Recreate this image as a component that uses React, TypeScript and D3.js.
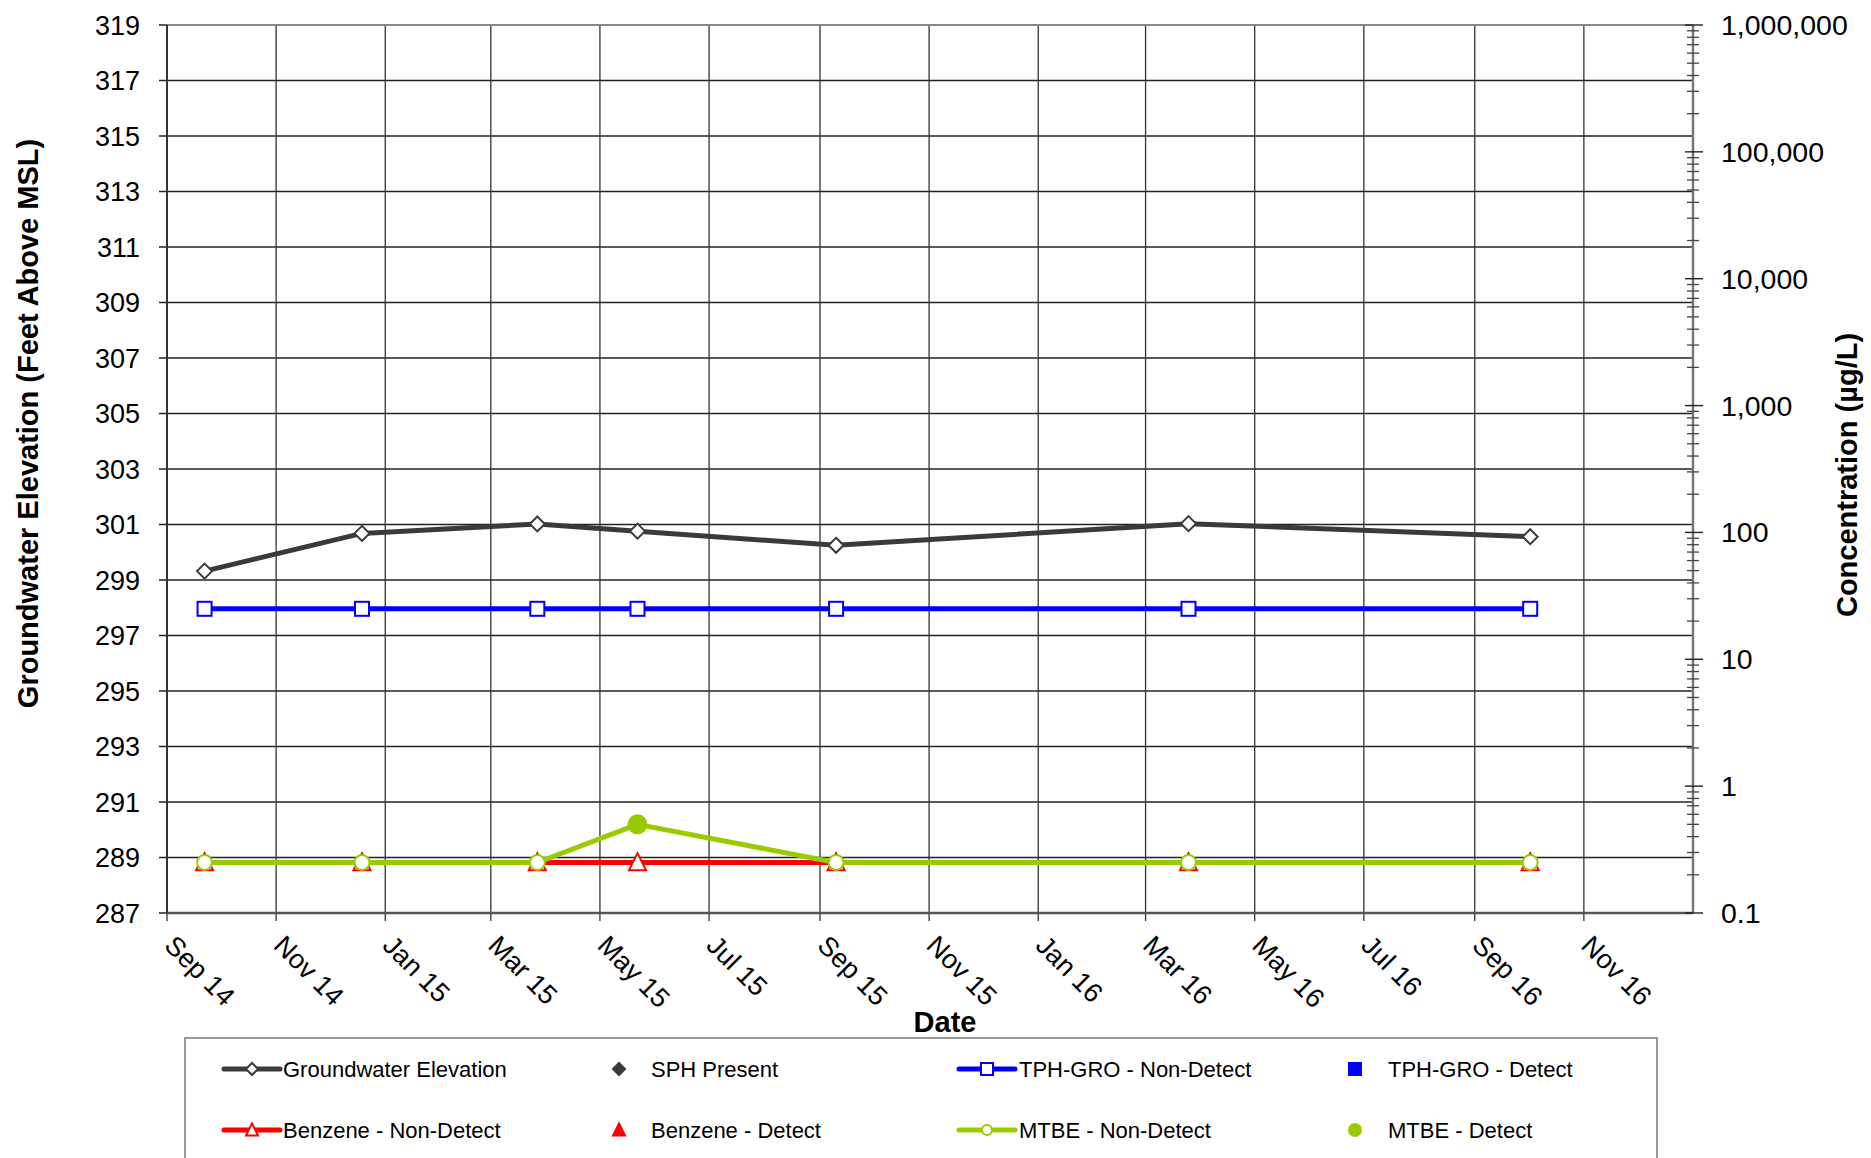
import React from 'react';
import * as d3 from 'd3';

// sampling events
const sampleDates = ['2014-09-22', '2014-12-19', '2015-03-27', '2015-05-22', '2015-09-10', '2016-03-25', '2016-10-02'];
const groundwater = [299.32, 300.68, 301.02, 300.76, 300.25, 301.03, 300.56];
const tphGro = [25, 25, 25, 25, 25, 25, 25];
const tphGroDetect = [false, false, false, false, false, false, false];
const benzene = [0.25, 0.25, 0.25, 0.25, 0.25, 0.25, 0.25];
const benzeneDetect = [false, false, false, false, false, false, false];
const mtbe = [0.25, 0.25, 0.25, 0.5, 0.25, 0.25, 0.25];
const mtbeDetect = [false, false, false, true, false, false, false];

const elevTicks = d3.range(287, 320, 2);
const concTicks = [0.1, 1, 10, 100, 1000, 10000, 100000, 1000000];

const W = 1871;
const H = 1158;
const M = { left: 167, right: 1693, top: 25, bottom: 913 };
const FONT = '"Liberation Sans", Arial, sans-serif';

const GW_COLOR = '#3a3a3a';
const TPH_COLOR = '#0000ff';
const BENZ_COLOR = '#ff0000';
const MTBE_COLOR = '#99cc00';

const parse = d3.timeParse('%Y-%m-%d');
const dates = sampleDates.map((d) => parse(d) as Date);

const xStart = new Date(2014, 8, 1);
const xEnd = new Date(2017, 0, 1);
const x = d3.scaleTime().domain([xStart, xEnd]).range([M.left, M.right]);
const yL = d3.scaleLinear().domain([287, 319]).range([M.bottom, M.top]);
const yR = d3.scaleLog().domain([0.1, 1000000]).range([M.bottom, M.top]);

const xTicks = d3.timeMonth.every(2)!.range(xStart, xEnd);
const fmtX = d3.timeFormat('%b %y');
const fmtR = d3.format(',');

const minorR: number[] = [];
for (let e = -1; e < 6; e++) {
  for (let k = 2; k <= 9; k++) minorR.push(k * Math.pow(10, e));
}

const diamond = (cx: number, cy: number, r: number) =>
  `M${cx},${cy - r}L${cx + r},${cy}L${cx},${cy + r}L${cx - r},${cy}Z`;
const triangle = (cx: number, cy: number, s: number) =>
  `M${cx},${cy - s * 0.55}L${cx + s / 2},${cy + s * 0.45}L${cx - s / 2},${cy + s * 0.45}Z`;

const Marker: React.FC<{ kind: string; cx: number; cy: number; color: string; filled: boolean; big?: boolean }> = ({
  kind, cx, cy, color, filled, big,
}) => {
  const fill = filled ? color : '#fff';
  if (kind === 'diamond') return <path d={diamond(cx, cy, big ? 7.5 : 6)} fill={fill} stroke={color} strokeWidth={2} />;
  if (kind === 'square') {
    const s = big ? 14 : 12;
    return <rect x={cx - s / 2} y={cy - s / 2} width={s} height={s} fill={fill} stroke={color} strokeWidth={2} />;
  }
  if (kind === 'triangle') return <path d={triangle(cx, cy, big ? 17 : 12)} fill={fill} stroke={color} strokeWidth={2} />;
  return <circle cx={cx} cy={cy} r={filled ? (big ? 9 : 6) : big ? 7.5 : 5} fill={fill} stroke={color} strokeWidth={2} />;
};

export default function App() {
  const gwLine = d3.line<number>().x((_, i) => x(dates[i])).y((v) => yL(v));
  const cLine = d3.line<number>().x((_, i) => x(dates[i])).y((v) => yR(v));

  const concSeries = [
    { vals: tphGro, det: tphGroDetect, color: TPH_COLOR, kind: 'square' },
    { vals: benzene, det: benzeneDetect, color: BENZ_COLOR, kind: 'triangle' },
    { vals: mtbe, det: mtbeDetect, color: MTBE_COLOR, kind: 'circle' },
  ];

  const legendRows = [
    [
      { label: 'Groundwater Elevation', color: GW_COLOR, kind: 'diamond', line: true },
      { label: 'SPH Present', color: GW_COLOR, kind: 'diamond', line: false },
      { label: 'TPH-GRO - Non-Detect', color: TPH_COLOR, kind: 'square', line: true },
      { label: 'TPH-GRO - Detect', color: TPH_COLOR, kind: 'square', line: false },
    ],
    [
      { label: 'Benzene - Non-Detect', color: BENZ_COLOR, kind: 'triangle', line: true },
      { label: 'Benzene - Detect', color: BENZ_COLOR, kind: 'triangle', line: false },
      { label: 'MTBE - Non-Detect', color: MTBE_COLOR, kind: 'circle', line: true },
      { label: 'MTBE - Detect', color: MTBE_COLOR, kind: 'circle', line: false },
    ],
  ];
  const legendCols = [252, 619, 987, 1355];
  const legendText = [283, 651, 1019, 1388];
  const legendY = [1069, 1130];

  return (
    <div style={{ position: 'absolute', left: 0, top: 0 }}>
      <svg width={W} height={H} style={{ display: 'block', background: '#fff', fontFamily: FONT }}>
        {/* grid */}
        {elevTicks.map((t) => (
          <line key={'h' + t} x1={M.left - 8} x2={M.right} y1={yL(t)} y2={yL(t)} stroke="#222" strokeWidth={1.4} />
        ))}
        {xTicks.map((t) => (
          <line key={'v' + t.getTime()} x1={x(t)} x2={x(t)} y1={M.top} y2={M.bottom + 8} stroke="#333" strokeWidth={1.3} />
        ))}
        {/* frame */}
        <line x1={M.left} x2={M.right} y1={M.top} y2={M.top} stroke="#888" strokeWidth={2} />
        <line x1={M.left} x2={M.right} y1={M.bottom} y2={M.bottom} stroke="#555" strokeWidth={2.5} />
        <line x1={M.left} x2={M.left} y1={M.top} y2={M.bottom} stroke="#333" strokeWidth={2} />
        <line x1={M.right} x2={M.right} y1={M.top} y2={M.bottom} stroke="#777" strokeWidth={2.5} />

        {/* left axis labels */}
        {elevTicks.map((t) => (
          <text key={'l' + t} x={140} y={yL(t) + 9.5} textAnchor="end" fontSize={27} fill="#000">
            {t}
          </text>
        ))}

        {/* right axis ticks */}
        {minorR.map((v) => (
          <line key={'m' + v} x1={M.right - 6} x2={M.right + 6} y1={yR(v)} y2={yR(v)} stroke="#444" strokeWidth={1.3} />
        ))}
        {concTicks.map((v) => (
          <g key={'r' + v}>
            <line x1={M.right - 8} x2={M.right + 10} y1={yR(v)} y2={yR(v)} stroke="#222" strokeWidth={1.4} />
            <text x={1721} y={yR(v) + 10} fontSize={28.5} fill="#000">
              {fmtR(v)}
            </text>
          </g>
        ))}

        {/* x axis labels */}
        {xTicks.map((t) => (
          <text key={'x' + t.getTime()} transform={`translate(${x(t) - 4},${M.bottom + 34}) rotate(45)`} fontSize={27} fill="#000">
            {fmtX(t)}
          </text>
        ))}

        {/* axis titles */}
        <text transform={`translate(38,${(137 + 710) / 2}) rotate(-90)`} textAnchor="middle" fontSize={29} fontWeight="bold">
          Groundwater Elevation (Feet Above MSL)
        </text>
        <text transform={`translate(1857,475) rotate(-90)`} textAnchor="middle" fontSize={29} fontWeight="bold">
          Concentration (µg/L)
        </text>
        <text x={945} y={1032} textAnchor="middle" fontSize={29} fontWeight="bold">
          Date
        </text>

        {/* concentration series */}
        {concSeries.map((s, si) => (
          <g key={'c' + si}>
            <path d={cLine(s.vals) || ''} fill="none" stroke={s.color} strokeWidth={5} strokeLinejoin="round" />
            {s.vals.map((v, i) => (
              <Marker key={i} kind={s.kind} cx={x(dates[i])} cy={yR(v)} color={s.color} filled={s.det[i]} big />
            ))}
          </g>
        ))}

        {/* groundwater */}
        <path d={gwLine(groundwater) || ''} fill="none" stroke={GW_COLOR} strokeWidth={5} strokeLinejoin="round" />
        {groundwater.map((v, i) => (
          <Marker key={'g' + i} kind="diamond" cx={x(dates[i])} cy={yL(v)} color={GW_COLOR} filled={false} big />
        ))}

        {/* legend */}
        <rect x={185} y={1038} width={1472} height={140} fill="none" stroke="#777" strokeWidth={1.5} />
        {legendRows.map((row, ri) =>
          row.map((it, ci) => (
            <g key={`lg${ri}-${ci}`}>
              {it.line && (
                <line x1={legendCols[ci] - 28} x2={legendCols[ci] + 28} y1={legendY[ri]} y2={legendY[ri]} stroke={it.color} strokeWidth={5} strokeLinecap="round" />
              )}
              <Marker kind={it.kind} cx={legendCols[ci]} cy={legendY[ri]} color={it.color} filled={!it.line} />
              <text x={legendText[ci]} y={legendY[ri] + 8} fontSize={22} fill="#000">
                {it.label}
              </text>
            </g>
          )),
        )}
      </svg>
    </div>
  );
}
